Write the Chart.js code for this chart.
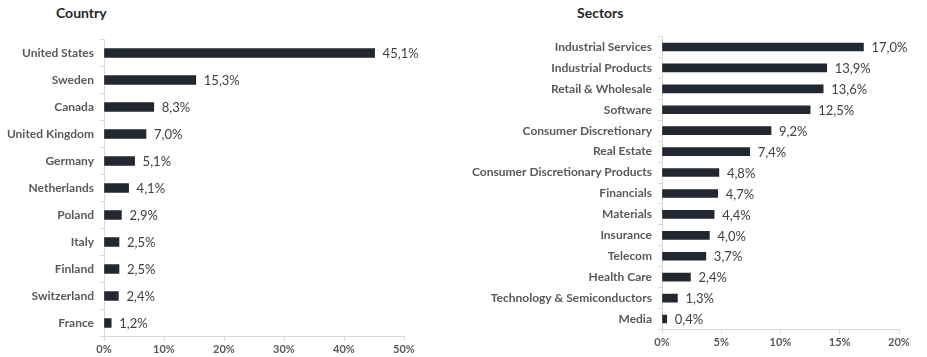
<!DOCTYPE html>
<html>
<head>
<meta charset="utf-8">
<script src="https://cdn.jsdelivr.net/npm/chart.js@4/dist/chart.umd.min.js"></script>
<style>
  html, body { margin: 0; padding: 0; background: #fff; }
  body { width: 927px; height: 357px; position: relative; overflow: hidden; font-family: Lato, "Open Sans", sans-serif; }
  .box { position: absolute; top: 0; height: 357px; }
  .title { position: absolute; top: 4px; font: bold 14px Lato, sans-serif; color: #262626; }
</style>
</head>
<body>
<div class="title" style="left:56px;">Country</div>
<div class="title" style="left:577px;">Sectors</div>
<div class="box" style="left:0;width:460px;"><canvas id="c1" width="460" height="357"></canvas></div>
<div class="box" style="left:460px;width:467px;"><canvas id="c2" width="467" height="357"></canvas></div>
<script>
const countryLabels = ["United States","Sweden","Canada","United Kingdom","Germany","Netherlands","Poland","Italy","Finland","Switzerland","France"];
const countryValues = [45.1,15.3,8.3,7.0,5.1,4.1,2.9,2.5,2.5,2.4,1.2];
const countryTicks = [0,10,20,30,40,50];

const sectorLabels = ["Industrial Services","Industrial Products","Retail & Wholesale","Software","Consumer Discretionary","Real Estate","Consumer Discretionary Products","Financials","Materials","Insurance","Telecom","Health Care","Technology & Semiconductors","Media"];
const sectorValues = [17.0,13.9,13.6,12.5,9.2,7.4,4.8,4.7,4.4,4.0,3.7,2.4,1.3,0.4];
const sectorTicks = [0,5,10,15,20];

const BAR = '#222831';
const fmt = v => v.toFixed(1).replace('.', ',') + '%';

const valueLabels = {
  id: 'valueLabels',
  afterDatasetsDraw(chart) {
    const ctx = chart.ctx;
    const meta = chart.getDatasetMeta(0);
    const data = chart.data.datasets[0].data;
    ctx.save();
    ctx.font = '13px Lato, sans-serif';
    ctx.fillStyle = '#404040';
    ctx.textAlign = 'left';
    ctx.textBaseline = 'middle';
    meta.data.forEach((el, i) => {
      ctx.fillText(fmt(data[i]), el.x + 8, el.y + 1);
    });
    ctx.restore();
  }
};

function makeChart(id, labels, values, ticks, opts) {
  return new Chart(document.getElementById(id), {
    type: 'bar',
    data: { labels: labels, datasets: [{ data: values, backgroundColor: BAR, barThickness: opts.bar }] },
    options: {
      indexAxis: 'y',
      responsive: false,
      animation: false,
      layout: { padding: { left: 0, right: opts.padRight, top: opts.padTop, bottom: 0 } },
      plugins: { legend: { display: false }, tooltip: { enabled: false }, title: { display: false } },
      scales: {
        x: {
          min: ticks[0], max: ticks[ticks.length - 1],
          afterBuildTicks: s => { s.ticks = ticks.map(v => ({ value: v })); },
          afterFit: s => { s.height = opts.xHeight; },
          grid: { drawOnChartArea: false, tickLength: 4, color: '#d9d9d9' },
          border: { color: '#d9d9d9' },
          ticks: { padding: 2, font: { family: 'Lato', weight: 'bold', size: 11 }, color: '#595959', callback: v => v + '%' }
        },
        y: {
          afterFit: s => { s.width = opts.yWidth; },
          grid: { drawOnChartArea: false, tickLength: 4, color: '#d9d9d9', offset: true },
          border: { color: '#d9d9d9' },
          ticks: { padding: 6, font: { family: 'Lato', weight: 'bold', size: 12 }, color: '#595959', autoSkip: false }
        }
      }
    },
    plugins: [valueLabels]
  });
}

makeChart('c1', countryLabels, countryValues, countryTicks, { bar: 9, padRight: 56, padTop: 39.5, xHeight: 20.5, yWidth: 104 });
makeChart('c2', sectorLabels, sectorValues, sectorTicks, { bar: 8, padRight: 28, padTop: 36.5, xHeight: 27.5, yWidth: 202 });
</script>
</body>
</html>
